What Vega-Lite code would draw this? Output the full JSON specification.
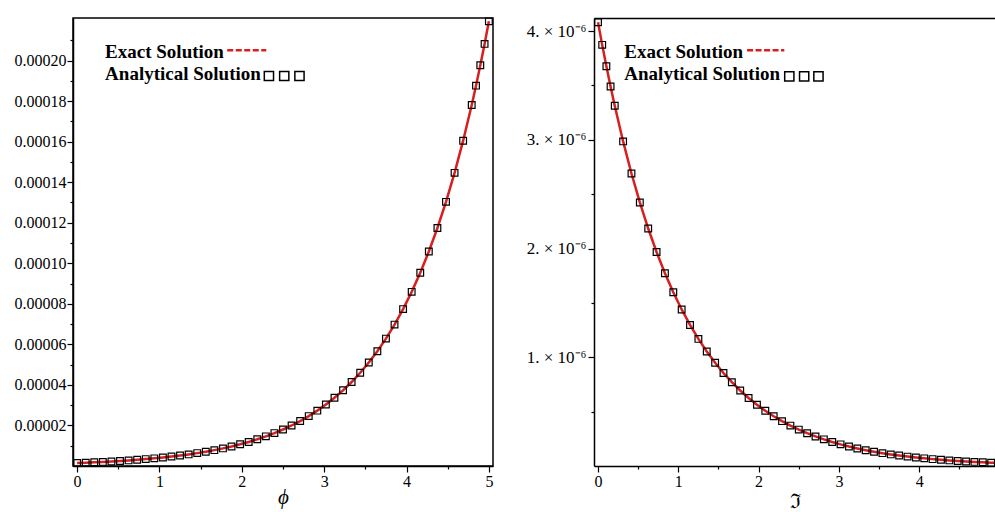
{
  "$schema": "https://vega.github.io/schema/vega-lite/v6.json",
  "background": "white",
  "padding": {"left": 12, "top": 14, "right": 0, "bottom": 0},
  "spacing": 30,
  "config": {
    "view": {"stroke": "black", "strokeWidth": 1.5},
    "axis": {"grid": false, "domainColor": "black", "domainWidth": 1.5, "tickColor": "black", "tickWidth": 1.2, "labelColor": "black", "labelFont": "Liberation Serif", "labelFontSize": 16, "titleFont": "Liberation Serif", "titleColor": "black", "titleFontWeight": "normal", "labelFlush": false, "labelOverlap": false, "tickCount": 40}
  },
  "datasets": {
    "phi": [
      {"x": 0, "y": 1.478e-6}, {"x": 0.1042, "y": 1.640e-6}, {"x": 0.2083, "y": 1.820e-6}, {"x": 0.3125, "y": 2.020e-6},
      {"x": 0.4167, "y": 2.242e-6}, {"x": 0.5208, "y": 2.488e-6}, {"x": 0.625, "y": 2.761e-6}, {"x": 0.7292, "y": 3.064e-6},
      {"x": 0.8333, "y": 3.401e-6}, {"x": 0.9375, "y": 3.774e-6}, {"x": 1.0417, "y": 4.189e-6}, {"x": 1.1458, "y": 4.648e-6},
      {"x": 1.25, "y": 5.159e-6}, {"x": 1.3542, "y": 5.725e-6}, {"x": 1.4583, "y": 6.354e-6}, {"x": 1.5625, "y": 7.051e-6},
      {"x": 1.6667, "y": 7.825e-6}, {"x": 1.7708, "y": 8.684e-6}, {"x": 1.875, "y": 9.638e-6}, {"x": 1.9792, "y": 1.0696e-5},
      {"x": 2.0833, "y": 1.1870e-5}, {"x": 2.1875, "y": 1.3173e-5}, {"x": 2.2917, "y": 1.4619e-5}, {"x": 2.3958, "y": 1.6224e-5},
      {"x": 2.5, "y": 1.8006e-5}, {"x": 2.6042, "y": 1.9983e-5}, {"x": 2.7083, "y": 2.2176e-5}, {"x": 2.8125, "y": 2.4611e-5},
      {"x": 2.9167, "y": 2.7313e-5}, {"x": 3.0208, "y": 3.0311e-5}, {"x": 3.125, "y": 3.3639e-5}, {"x": 3.2292, "y": 3.7332e-5},
      {"x": 3.3333, "y": 4.1431e-5}, {"x": 3.4375, "y": 4.5979e-5}, {"x": 3.5417, "y": 5.1027e-5}, {"x": 3.6458, "y": 5.6629e-5},
      {"x": 3.75, "y": 6.2846e-5}, {"x": 3.8542, "y": 6.9746e-5}, {"x": 3.9583, "y": 7.7403e-5}, {"x": 4.0625, "y": 8.5899e-5},
      {"x": 4.1667, "y": 9.5330e-5}, {"x": 4.2708, "y": 1.05796e-4}, {"x": 4.375, "y": 1.17412e-4}, {"x": 4.4792, "y": 1.30302e-4},
      {"x": 4.5833, "y": 1.44607e-4}, {"x": 4.6875, "y": 1.60483e-4}, {"x": 4.7917, "y": 1.78102e-4}, {"x": 4.8438, "y": 1.87625e-4},
      {"x": 4.8958, "y": 1.97658e-4}, {"x": 4.9479, "y": 2.08222e-4}, {"x": 5, "y": 2.19355e-4}
    ],
    "frak": [
      {"x": 0, "y": 4.08e-6}, {"x": 0.0521, "y": 3.8729e-6}, {"x": 0.1042, "y": 3.6764e-6}, {"x": 0.1563, "y": 3.4898e-6},
      {"x": 0.2083, "y": 3.3127e-6}, {"x": 0.3125, "y": 2.9850e-6}, {"x": 0.4167, "y": 2.6897e-6}, {"x": 0.5208, "y": 2.4236e-6},
      {"x": 0.625, "y": 2.1838e-6}, {"x": 0.7292, "y": 1.9678e-6}, {"x": 0.8333, "y": 1.7732e-6}, {"x": 0.9375, "y": 1.5977e-6},
      {"x": 1.0417, "y": 1.4397e-6}, {"x": 1.1458, "y": 1.2973e-6}, {"x": 1.25, "y": 1.1689e-6}, {"x": 1.3542, "y": 1.0533e-6},
      {"x": 1.4583, "y": 9.4911e-7}, {"x": 1.5625, "y": 8.5522e-7}, {"x": 1.6667, "y": 7.7061e-7}, {"x": 1.7708, "y": 6.9438e-7},
      {"x": 1.875, "y": 6.2569e-7}, {"x": 1.9792, "y": 5.6379e-7}, {"x": 2.0833, "y": 5.0802e-7}, {"x": 2.1875, "y": 4.5777e-7},
      {"x": 2.2917, "y": 4.1248e-7}, {"x": 2.3958, "y": 3.7168e-7}, {"x": 2.5, "y": 3.3491e-7}, {"x": 2.6042, "y": 3.0178e-7},
      {"x": 2.7083, "y": 2.7192e-7}, {"x": 2.8125, "y": 2.4502e-7}, {"x": 2.9167, "y": 2.2079e-7}, {"x": 3.0208, "y": 1.9894e-7},
      {"x": 3.125, "y": 1.7926e-7}, {"x": 3.2292, "y": 1.6153e-7}, {"x": 3.3333, "y": 1.4555e-7}, {"x": 3.4375, "y": 1.3115e-7},
      {"x": 3.5417, "y": 1.1818e-7}, {"x": 3.6458, "y": 1.0649e-7}, {"x": 3.75, "y": 9.5952e-8}, {"x": 3.8542, "y": 8.6460e-8},
      {"x": 3.9583, "y": 7.7907e-8}, {"x": 4.0625, "y": 7.0200e-8}, {"x": 4.1667, "y": 6.3257e-8}, {"x": 4.2708, "y": 5.6999e-8},
      {"x": 4.375, "y": 5.1360e-8}, {"x": 4.4792, "y": 4.6279e-8}, {"x": 4.5833, "y": 4.1701e-8}, {"x": 4.6875, "y": 3.7576e-8},
      {"x": 4.7917, "y": 3.3858e-8}, {"x": 4.8958, "y": 3.0509e-8}, {"x": 5, "y": 2.7491e-8}
    ]
  },
  "hconcat": [
    {
      "width": 420,
      "height": 448,
      "layer": [
        {
          "data": {"name": "phi"},
          "mark": {"type": "line", "color": "#d81e1e", "strokeWidth": 2.5},
          "encoding": {
            "x": {"field": "x", "type": "quantitative", "title": "ϕ",
              "scale": {"domain": [-0.05, 5.05], "nice": false, "zero": false},
              "axis": {"values": [0, 0.5, 1, 1.5, 2, 2.5, 3, 3.5, 4, 4.5, 5], "tickCount": 40,
                "labelExpr": "datum.value % 1 === 0 ? format(datum.value, 'd') : ''",
                "tickSize": {"condition": {"test": "datum.value % 1 === 0", "value": 6}, "value": 3},
                "labelPadding": 1, "titleFontSize": 21, "titleFontStyle": "italic", "titlePadding": -3}},
            "y": {"field": "y", "type": "quantitative", "title": null,
              "scale": {"domain": [0, 0.000221], "nice": false, "zero": false},
              "axis": {"values": [0.00001, 0.00002, 0.00003, 0.00004, 0.00005, 0.00006, 0.00007, 0.00008, 0.00009, 0.0001, 0.00011, 0.00012, 0.00013, 0.00014, 0.00015, 0.00016, 0.00017, 0.00018, 0.00019, 0.0002, 0.00021],
                "tickCount": 40, "format": ".5f",
                "labelExpr": "round(datum.value * 100000) % 2 == 0 ? datum.label : ''",
                "tickSize": {"condition": {"test": "round(datum.value * 100000) % 2 == 0", "value": 6}, "value": 3},
                "labelPadding": 1, "minExtent": 60, "maxExtent": 60}}
          }
        },
        {
          "data": {"name": "phi"},
          "mark": {"type": "point", "shape": "square", "filled": false, "color": "black", "size": 45, "strokeWidth": 1.2, "opacity": 1},
          "encoding": {
            "x": {"field": "x", "type": "quantitative", "title": "ϕ"},
            "y": {"field": "y", "type": "quantitative", "title": null}
          }
        },
        {
          "data": {"values": [{}]},
          "mark": {"type": "text", "text": "Exact Solution", "font": "Liberation Serif", "fontWeight": "bold", "fontSize": 19, "align": "left", "baseline": "alphabetic", "color": "black"},
          "encoding": {
            "x": {"datum": 0.34, "type": "quantitative", "title": "ϕ"},
            "y": {"datum": 0.00020142, "type": "quantitative", "title": null}
          }
        },
        {
          "data": {"values": [{}]},
          "mark": {"type": "text", "text": "Analytical Solution", "font": "Liberation Serif", "fontWeight": "bold", "fontSize": 19, "align": "left", "baseline": "alphabetic", "color": "black"},
          "encoding": {
            "x": {"datum": 0.34, "type": "quantitative", "title": "ϕ"},
            "y": {"datum": 0.00019027, "type": "quantitative", "title": null}
          }
        },
        {
          "data": {"values": [{}]},
          "mark": {"type": "rule", "color": "#d81e1e", "strokeWidth": 2.5, "strokeDash": [6, 2.5]},
          "encoding": {
            "x": {"datum": 1.823, "type": "quantitative", "title": "ϕ"},
            "x2": {"datum": 2.297},
            "y": {"datum": 0.00020507, "type": "quantitative", "title": null}
          }
        },
        {
          "data": {"values": [{}]},
          "mark": {"type": "point", "shape": "square", "filled": false, "color": "black", "size": 85, "strokeWidth": 1.5, "opacity": 1},
          "encoding": {
            "x": {"datum": 2.329, "type": "quantitative", "title": "ϕ"},
            "y": {"datum": 0.00019239, "type": "quantitative", "title": null}
          }
        },
        {
          "data": {"values": [{}]},
          "mark": {"type": "point", "shape": "square", "filled": false, "color": "black", "size": 85, "strokeWidth": 1.5, "opacity": 1},
          "encoding": {
            "x": {"datum": 2.515, "type": "quantitative", "title": "ϕ"},
            "y": {"datum": 0.00019239, "type": "quantitative", "title": null}
          }
        },
        {
          "data": {"values": [{}]},
          "mark": {"type": "point", "shape": "square", "filled": false, "color": "black", "size": 85, "strokeWidth": 1.5, "opacity": 1},
          "encoding": {
            "x": {"datum": 2.7, "type": "quantitative", "title": "ϕ"},
            "y": {"datum": 0.00019239, "type": "quantitative", "title": null}
          }
        }
      ]
    },
    {
      "width": 402,
      "height": 448,
      "view": {"stroke": null},
      "resolve": {"axis": {"x": "independent"}},
      "layer": [
        {
          "data": {"name": "frak"},
          "mark": {"type": "line", "color": "#d81e1e", "strokeWidth": 2.5, "clip": true},
          "encoding": {
            "x": {"field": "x", "type": "quantitative", "title": "ℑ",
              "scale": {"domain": [-0.05, 4.956], "nice": false, "zero": false},
              "axis": {"values": [0, 0.5, 1, 1.5, 2, 2.5, 3, 3.5, 4, 4.5], "tickCount": 40,
                "labelExpr": "datum.value % 1 === 0 ? format(datum.value, 'd') : ''",
                "tickSize": {"condition": {"test": "datum.value % 1 === 0", "value": 6}, "value": 3},
                "labelPadding": 1, "titleFontSize": 20, "titlePadding": 2}},
            "y": {"field": "y", "type": "quantitative", "title": null,
              "scale": {"domain": [0, 4.12e-6], "nice": false, "zero": false},
              "axis": {"values": [5e-7, 1e-6, 1.5e-6, 2e-6, 2.5e-6, 3e-6, 3.5e-6, 4e-6], "tickCount": 40,
                "labelExpr": "round(datum.value * 2e6) % 2 === 0 ? round(datum.value * 1e6) + '. × 10⁻⁶' : ''",
                "tickSize": {"condition": {"test": "round(datum.value * 2e6) % 2 === 0", "value": 6}, "value": 3},
                "labelPadding": 2, "labelFontSize": 17, "minExtent": 64, "maxExtent": 64}}
          }
        },
        {
          "data": {"name": "frak"},
          "mark": {"type": "point", "shape": "square", "filled": false, "color": "black", "size": 45, "strokeWidth": 1.2, "opacity": 1, "clip": true},
          "encoding": {
            "x": {"field": "x", "type": "quantitative", "title": null,
              "axis": {"orient": "top", "labels": false, "ticks": false, "title": null, "domain": true}},
            "y": {"field": "y", "type": "quantitative", "title": null}
          }
        },
        {
          "data": {"values": [{}]},
          "mark": {"type": "text", "text": "Exact Solution", "font": "Liberation Serif", "fontWeight": "bold", "fontSize": 19, "align": "left", "baseline": "alphabetic", "color": "black"},
          "encoding": {
            "x": {"datum": 0.3275, "type": "quantitative", "axis": null},
            "y": {"datum": 3.755e-6, "type": "quantitative", "title": null}
          }
        },
        {
          "data": {"values": [{}]},
          "mark": {"type": "text", "text": "Analytical Solution", "font": "Liberation Serif", "fontWeight": "bold", "fontSize": 19, "align": "left", "baseline": "alphabetic", "color": "black"},
          "encoding": {
            "x": {"datum": 0.3275, "type": "quantitative", "axis": null},
            "y": {"datum": 3.547e-6, "type": "quantitative", "title": null}
          }
        },
        {
          "data": {"values": [{}]},
          "mark": {"type": "rule", "color": "#d81e1e", "strokeWidth": 2.5, "strokeDash": [6, 2.5]},
          "encoding": {
            "x": {"datum": 1.856, "type": "quantitative", "axis": null},
            "x2": {"datum": 2.32},
            "y": {"datum": 3.823e-6, "type": "quantitative", "title": null}
          }
        },
        {
          "data": {"values": [{}]},
          "mark": {"type": "point", "shape": "square", "filled": false, "color": "black", "size": 85, "strokeWidth": 1.5, "opacity": 1},
          "encoding": {
            "x": {"datum": 2.382, "type": "quantitative", "axis": null},
            "y": {"datum": 3.584e-6, "type": "quantitative", "title": null}
          }
        },
        {
          "data": {"values": [{}]},
          "mark": {"type": "point", "shape": "square", "filled": false, "color": "black", "size": 85, "strokeWidth": 1.5, "opacity": 1},
          "encoding": {
            "x": {"datum": 2.567, "type": "quantitative", "axis": null},
            "y": {"datum": 3.584e-6, "type": "quantitative", "title": null}
          }
        },
        {
          "data": {"values": [{}]},
          "mark": {"type": "point", "shape": "square", "filled": false, "color": "black", "size": 85, "strokeWidth": 1.5, "opacity": 1},
          "encoding": {
            "x": {"datum": 2.745, "type": "quantitative", "axis": null},
            "y": {"datum": 3.584e-6, "type": "quantitative", "title": null}
          }
        }
      ]
    }
  ]
}
